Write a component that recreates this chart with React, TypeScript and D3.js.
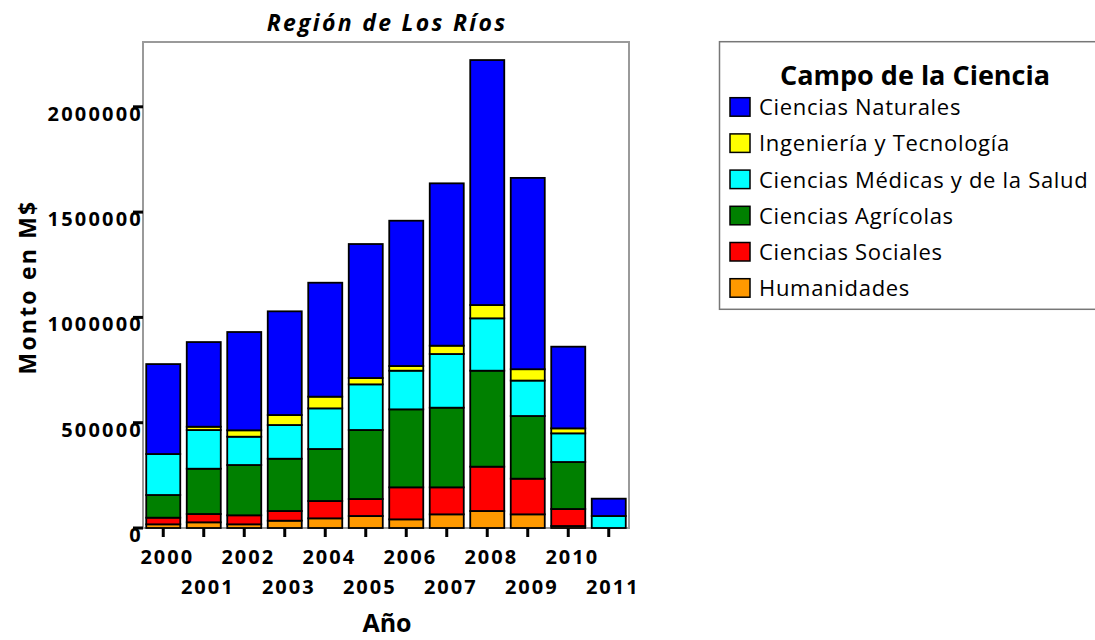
import * as d3 from "d3";

const years = ["2000", "2001", "2002", "2003", "2004", "2005", "2006", "2007", "2008", "2009", "2010", "2011"];

// stacked bottom to top
const humanidades = [17500, 27000, 17500, 34700, 45900, 57000, 41100, 64900, 80700, 64900, 9500, 0];
const sociales = [31500, 39500, 42800, 46000, 82300, 80700, 152000, 128200, 210500, 169300, 80700, 0];
const agricolas = [107700, 215000, 238800, 248300, 246900, 327600, 370300, 378200, 455800, 297600, 223200, 0];
const medicas = [194600, 183700, 134400, 160000, 193000, 216800, 183600, 254900, 248600, 168300, 136100, 57000];
const ingenieria = [0, 15700, 30400, 47500, 55500, 30100, 22200, 39500, 63200, 53900, 23700, 0];
const naturales = [427000, 402000, 466700, 492400, 541100, 636200, 689900, 770900, 1163200, 908400, 387800, 82300];

const seriesNames = [
  "Humanidades",
  "Ciencias Sociales",
  "Ciencias Agrícolas",
  "Ciencias Médicas y de la Salud",
  "Ingeniería y Tecnología",
  "Ciencias Naturales",
];
const seriesValues = [humanidades, sociales, agricolas, medicas, ingenieria, naturales];
const seriesColors = ["#ff9900", "#ff0000", "#008000", "#00ffff", "#ffff00", "#0000ff"];

const yTicks = [0, 500000, 1000000, 1500000, 2000000];

const font = "'Open Sans', sans-serif";

export default function App() {
  const left = 143;
  const right = 629;
  const top = 42;
  const bottom = 528;

  const x = d3.scaleBand<string>().domain(years).range([left, right]).paddingInner(0.16).paddingOuter(0.08);
  const y = d3.scaleLinear().domain([0, 2307700]).range([bottom, top]);

  const table = years.map((yr, i) => {
    const row: Record<string, number | string> = { year: yr };
    seriesNames.forEach((n, k) => (row[n] = seriesValues[k][i]));
    return row;
  });
  const stacked = d3.stack<Record<string, number | string>>().keys(seriesNames)(table as any);

  return (
    <svg width={1095} height={640} style={{ position: "absolute", left: 0, top: 0 }} fontFamily={font}>
      <rect width={1095} height={640} fill="#fff" />
      <text x={(left + right) / 2 + 1} y={31} textAnchor="middle" fontSize={23} fontWeight="bold" fontStyle="italic" letterSpacing={2.3}>
        Región de Los Ríos
      </text>

      {/* frame */}
      <path d={`M${left},${bottom}V${top}H${right}V${bottom}H${left}`} fill="none" stroke="#9a9a9a" strokeWidth={2} />

      {stacked.map((s, k) => (
        <g key={seriesNames[k]} fill={seriesColors[k]} stroke="#000" strokeWidth={1.8}>
          {s.map((d, i) =>
            d[1] - d[0] > 0 ? (
              <rect
                key={years[i]}
                x={x(years[i])}
                y={y(d[1])}
                width={x.bandwidth()}
                height={y(d[0]) - y(d[1])}
              />
            ) : null
          )}
        </g>
      ))}

      {/* y axis */}
      {yTicks.map((t) => (
        <g key={t}>
          <line x1={left - 10} x2={left} y1={y(t)} y2={y(t)} stroke="#000" strokeWidth={3} />
          <text x={left} y={y(t) + 14} textAnchor="end" fontSize={20} fontWeight="bold" letterSpacing={2.2}>
            {t}
          </text>
        </g>
      ))}

      {/* x axis */}
      {years.map((yr, i) => {
        const cx = (x(yr) || 0) + x.bandwidth() / 2;
        return (
          <g key={yr}>
            <line x1={cx} x2={cx} y1={bottom} y2={bottom + 9} stroke="#000" strokeWidth={3} />
            <text x={cx + 4} y={i % 2 === 0 ? 564 : 594} textAnchor="middle" fontSize={20} fontWeight="bold" letterSpacing={2}>
              {yr}
            </text>
          </g>
        );
      })}

      <text x={387} y={632} textAnchor="middle" fontSize={25} fontWeight="bold">
        Año
      </text>
      <text transform="translate(36,287) rotate(-90)" textAnchor="middle" fontSize={23} fontWeight="bold" letterSpacing={2.2}>
        Monto en M$
      </text>

      {/* legend */}
      <rect x={719.5} y={41.7} width={400} height={267.6} fill="#fff" stroke="#777" strokeWidth={1.5} />
      <text x={915} y={85} textAnchor="middle" fontSize={27} fontWeight="bold">
        Campo de la Ciencia
      </text>
      {seriesNames
        .map((n, k) => ({ n, c: seriesColors[k] }))
        .reverse()
        .map((e, j) => (
          <g key={e.n} transform={`translate(730,${97.7 + j * 36.2})`}>
            <rect width={20} height={18.5} fill={e.c} stroke="#000" strokeWidth={1.5} />
            <text x={29} y={17.5} fontSize={22} letterSpacing={0.7}>
              {e.n}
            </text>
          </g>
        ))}
    </svg>
  );
}
